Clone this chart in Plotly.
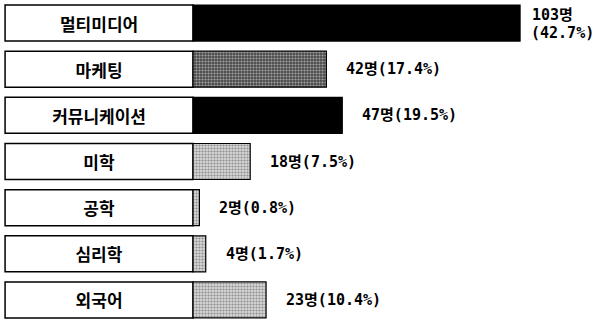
import plotly.graph_objects as go

categories = ["멀티미디어", "마케팅", "커뮤니케이션", "미학", "공학", "심리학", "외국어"]
counts = [103, 42, 47, 18, 2, 4, 23]
percents = [42.7, 17.4, 19.5, 7.5, 0.8, 1.7, 10.4]

label_width = 59.2
x_min, x_max = -60.8, 126.6

fills = ["#000000", "#4a4a4a", "#000000", "#d6d6d6", "#d6d6d6", "#d6d6d6", "#d6d6d6"]
pat_shapes = ["", ".", "", ".", ".", ".", "."]
pat_fg = ["#000000", "#a0a0a0", "#000000", "#808080", "#808080", "#808080", "#808080"]

FONT = "Noto Sans CJK KR"
VFONT = "DejaVu Sans Mono, Noto Sans CJK KR"

fig = go.Figure()

# label boxes
fig.add_trace(go.Bar(
    y=categories, x=[label_width] * len(categories), base=[-label_width] * len(categories),
    orientation="h", marker=dict(color="white", line=dict(color="black", width=1.5)),
    text=[f"<b>{c}</b>" for c in categories], textposition="inside", insidetextanchor="middle",
    textfont=dict(family=FONT, size=17, color="black"),
    hoverinfo="skip", showlegend=False,
))

# value bars
fig.add_trace(go.Bar(
    y=categories, x=counts, base=[0] * len(categories), orientation="h",
    marker=dict(color=fills, line=dict(color="black", width=1.2),
                pattern=dict(shape=pat_shapes, fgcolor=pat_fg, bgcolor=fills,
                             size=3, solidity=0.4, fillmode="overlay")),
    hoverinfo="skip", showlegend=False,
))

for i, (c, n, p) in enumerate(zip(categories, counts, percents)):
    if i == 0:
        fig.add_annotation(x=n, y=c, text=f"<b>{n}명</b>", showarrow=False, xanchor="left",
                           xshift=10, yshift=8, font=dict(family=VFONT, size=15, color="black"))
        fig.add_annotation(x=n, y=c, text=f"<b>({p}%)</b>", showarrow=False, xanchor="left",
                           xshift=9, yshift=-10, font=dict(family=VFONT, size=15, color="black"))
    else:
        fig.add_annotation(x=n, y=c, text=f"<b>{n}명({p}%)</b>", showarrow=False, xanchor="left",
                           xshift=18, font=dict(family=VFONT, size=15, color="black"))

fig.update_layout(
    width=595, height=325, margin=dict(l=0, r=0, t=0, b=2),
    plot_bgcolor="white", paper_bgcolor="white", bargap=0.22, barmode="overlay",
    xaxis=dict(range=[x_min, x_max], visible=False, fixedrange=True),
    yaxis=dict(autorange="reversed", visible=False, fixedrange=True),
)

fig.write_html("out.html", config={"displayModeBar": False},
               post_script="document.body.style.margin='0';")
